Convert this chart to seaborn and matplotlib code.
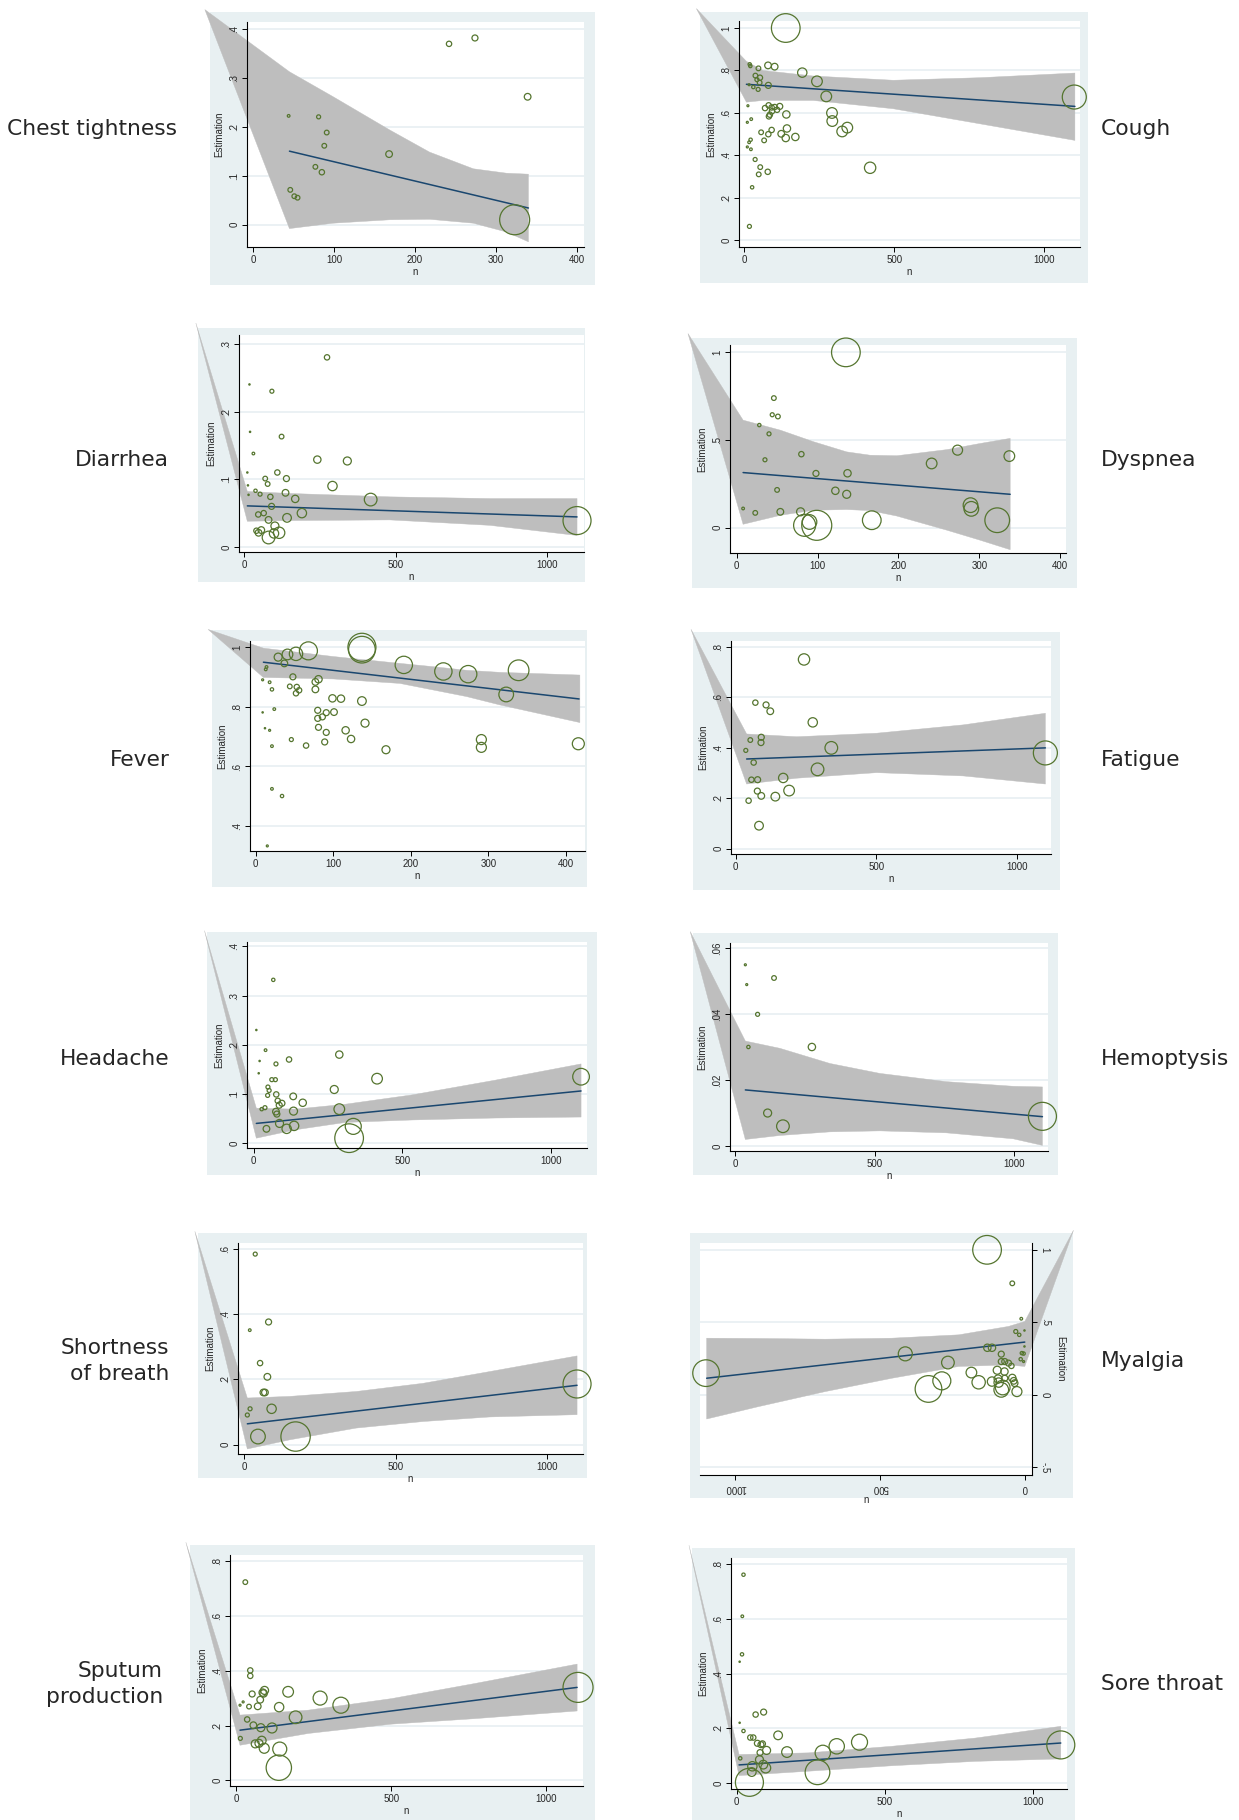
import numpy as np
import pandas as pd
import matplotlib
matplotlib.use("Agg")
import matplotlib.pyplot as plt
from matplotlib.patches import Rectangle
import seaborn as sns

sns.set_style("ticks")
plt.rcParams["font.family"] = ["Liberation Sans", "DejaVu Sans"]

# ---------------- DATA ----------------
# Chest tightness
chest_n = [44, 46, 51, 55, 81, 77, 85, 88, 91, 168, 242, 274, 339, 323]
chest_est = [0.222, 0.071, 0.058, 0.055, 0.220, 0.118, 0.107, 0.161, 0.188, 0.144, 0.369, 0.381, 0.261, 0.010]
chest_w = [4, 7, 7, 7, 6, 7, 8, 7, 7, 10, 8, 9, 10, 45]
chest_fit_n = [45, 340]
chest_fit_est = [0.150, 0.034]
chest_band_n = [45, 99, 169, 218, 272, 313, 340]
chest_band_hi = [0.312, 0.261, 0.193, 0.148, 0.114, 0.105, 0.103]
chest_band_lo = [-0.008, 0.003, 0.010, 0.011, 0.003, -0.015, -0.035]
chest_xticks = [0, 100, 200, 300, 400]
chest_yticks = [0, 0.1, 0.2, 0.3, 0.4]
chest_yticklabels = ["0", ".1", ".2", ".3", ".4"]

# Cough
cough_n = [139, 19, 21, 48, 80, 102, 194, 243, 274, 38, 53, 43, 52, 17, 31, 47, 81, 13, 70, 82, 92, 102, 119, 110, 93, 86, 83, 141,
           293, 294, 24, 11, 92, 57, 81, 143, 124, 139, 171, 67, 22, 17, 11, 23, 327, 344, 37, 54, 49, 79, 420, 27, 18, 1100]
cough_est = [1.0, 0.829, 0.821, 0.81, 0.824, 0.818, 0.79, 0.749, 0.678, 0.776, 0.766, 0.757, 0.743, 0.733, 0.722, 0.711, 0.730,
             0.634, 0.623, 0.636, 0.626, 0.628, 0.631, 0.615, 0.608, 0.592, 0.584, 0.593, 0.60, 0.562, 0.571, 0.556, 0.52, 0.509,
             0.50, 0.527, 0.502, 0.482, 0.487, 0.471, 0.474, 0.462, 0.44, 0.429, 0.513, 0.531, 0.381, 0.345, 0.311, 0.323, 0.342,
             0.25, 0.066, 0.675]
cough_w = [43, 5, 5, 7, 10, 10, 14, 16, 16, 7, 8, 6, 7, 3, 5, 6, 9, 3, 8, 8, 8, 8, 9, 8, 8, 8, 8, 11, 16, 16, 4, 3, 8, 7, 8, 11,
           10, 11, 11, 7, 5, 4, 3, 4, 16, 16, 6, 7, 7, 8, 17, 5, 6, 36]
cough_fit_n = [8, 1102]
cough_fit_est = [0.735, 0.631]
cough_band_n = [8, 63, 230, 497, 786, 1102]
cough_band_hi = [0.843, 0.80, 0.774, 0.754, 0.766, 0.788]
cough_band_lo = [0.651, 0.659, 0.659, 0.62, 0.549, 0.471]
cough_xticks = [0, 500, 1000]
cough_yticks = [0, 0.2, 0.4, 0.6, 0.8, 1.0]
cough_yticklabels = ["0", ".2", ".4", ".6", ".8", "1"]

# Diarrhea
diar_n = [274, 18, 92, 20, 124, 31, 242, 341, 11, 110, 70, 140, 13, 78, 292, 38, 53, 15, 137, 87, 169, 418, 91, 191, 65, 47,
          142, 81, 102, 41, 57, 48, 116, 99, 81, 1099]
diar_est = [0.280, 0.240, 0.230, 0.170, 0.163, 0.138, 0.129, 0.127, 0.110, 0.110, 0.101, 0.101, 0.091, 0.093, 0.090, 0.083,
            0.078, 0.077, 0.080, 0.074, 0.071, 0.070, 0.060, 0.050, 0.050, 0.048, 0.043, 0.040, 0.031, 0.024, 0.025, 0.021,
            0.021, 0.020, 0.014, 0.039]
diar_w = [8, 2, 6, 2, 7, 4, 11, 12, 2, 8, 7, 9, 2, 7, 14, 5, 6, 2, 10, 8, 11, 19, 9, 14, 8, 8, 13, 10, 12, 8, 10, 10, 17, 14, 19, 42]
diar_fit_n = [11, 1099]
diar_fit_est = [0.0607, 0.0444]
diar_band_n = [11, 152, 481, 811, 1099]
diar_band_hi = [0.082, 0.079, 0.074, 0.0715, 0.0715]
diar_band_lo = [0.038, 0.039, 0.040, 0.032, 0.017]
diar_xticks = [0, 500, 1000]
diar_yticks = [0, 0.1, 0.2, 0.3]
diar_yticklabels = ["0", ".1", ".2", ".3"]

# Dyspnea
dysp_n = [135, 46, 44, 51, 28, 40, 80, 35, 98, 137, 50, 122, 136, 8, 23, 54, 79, 84, 90, 99, 167, 241, 273, 289, 290, 322, 337]
dysp_est = [1.0, 0.739, 0.644, 0.634, 0.585, 0.535, 0.419, 0.387, 0.309, 0.310, 0.215, 0.21, 0.19, 0.109, 0.084, 0.09, 0.09,
            0.013, 0.032, 0.013, 0.042, 0.366, 0.442, 0.128, 0.107, 0.042, 0.408]
dysp_w = [43, 7, 6, 7, 5, 6, 8, 6, 9, 11, 7, 11, 12, 4, 7, 10, 12, 33, 22, 45, 28, 16, 15, 22, 22, 37, 16]
dysp_fit_n = [8, 338]
dysp_fit_est = [0.314, 0.19]
dysp_band_n = [8, 54, 95, 136, 165, 198, 260, 301, 338]
dysp_band_hi = [0.613, 0.556, 0.490, 0.432, 0.413, 0.410, 0.445, 0.480, 0.509]
dysp_band_lo = [0.019, 0.070, 0.099, 0.103, 0.097, 0.066, -0.015, -0.072, -0.126]
dysp_xticks = [0, 100, 200, 300, 400]
dysp_yticks = [0, 0.5, 1.0]
dysp_yticklabels = ["0", ".5", "1"]

# Fever
fever_n = [137, 137, 68, 52, 41, 29, 37, 191, 14, 13, 242, 274, 339, 323, 48, 9, 81, 77, 18, 44, 53, 77, 21, 56, 52, 99, 110,
           137, 24, 9, 80, 91, 101, 86, 80, 141, 12, 18, 81, 116, 91, 46, 123, 89, 65, 21, 168, 291, 291, 416, 21, 34, 15]
fever_est = [0.999, 0.991, 0.987, 0.977, 0.975, 0.966, 0.945, 0.94, 0.933, 0.925, 0.918, 0.909, 0.922, 0.841, 0.90, 0.89,
             0.892, 0.883, 0.882, 0.868, 0.866, 0.858, 0.858, 0.855, 0.845, 0.828, 0.827, 0.819, 0.792, 0.781, 0.788, 0.780,
             0.782, 0.766, 0.761, 0.745, 0.728, 0.721, 0.731, 0.721, 0.714, 0.69, 0.692, 0.682, 0.670, 0.668, 0.656, 0.69,
             0.664, 0.676, 0.525, 0.501, 0.334]
fever_w = [42, 40, 27, 20, 16, 12, 10, 26, 4, 4, 26, 26, 31, 22, 9, 3, 11, 10, 4, 7, 8, 10, 5, 8, 8, 11, 11, 13, 4, 2, 9, 9, 10,
           9, 9, 12, 2, 3, 9, 11, 9, 6, 11, 9, 8, 4, 12, 15, 15, 18, 4, 5, 3]
fever_fit_n = [10, 417]
fever_fit_est = [0.949, 0.826]
fever_band_n = [10, 100, 186, 229, 272, 315, 418]
fever_band_hi = [0.996, 0.968, 0.945, 0.934, 0.922, 0.915, 0.906]
fever_band_lo = [0.898, 0.893, 0.878, 0.856, 0.834, 0.806, 0.747]
fever_xticks = [0, 100, 200, 300, 400]
fever_yticks = [0.4, 0.6, 0.8, 1.0]
fever_yticklabels = [".4", ".6", ".8", "1"]

# Fatigue
fat_n = [243, 70, 108, 123, 274, 52, 91, 90, 36, 340, 64, 56, 78, 169, 291, 77, 91, 141, 190, 46, 83, 1101]
fat_est = [0.749, 0.578, 0.569, 0.544, 0.50, 0.430, 0.441, 0.420, 0.389, 0.399, 0.341, 0.273, 0.273, 0.28, 0.314, 0.228,
           0.209, 0.206, 0.230, 0.19, 0.091, 0.379]
fat_w = [17, 8, 9, 10, 14, 7, 9, 9, 6, 19, 8, 8, 9, 14, 19, 9, 10, 13, 16, 8, 13, 36]
fat_fit_n = [39, 1101]
fat_fit_est = [0.355, 0.399]
fat_band_n = [39, 217, 501, 809, 1101]
fat_band_hi = [0.454, 0.443, 0.457, 0.49, 0.536]
fat_band_lo = [0.256, 0.279, 0.301, 0.288, 0.256]
fat_xticks = [0, 500, 1000]
fat_yticks = [0, 0.2, 0.4, 0.6, 0.8]
fat_yticklabels = ["0", ".2", ".4", ".6", ".8"]

# Headache
head_n = [66, 9, 40, 288, 119, 20, 75, 17, 415, 61, 73, 48, 52, 271, 47, 76, 133, 165, 81, 95, 86, 27, 38, 75, 78, 134, 288,
          87, 136, 111, 43, 335, 321, 1101]
head_est = [0.332, 0.230, 0.189, 0.180, 0.170, 0.167, 0.161, 0.142, 0.131, 0.129, 0.129, 0.114, 0.107, 0.109, 0.097, 0.099,
            0.095, 0.082, 0.086, 0.081, 0.077, 0.069, 0.072, 0.064, 0.059, 0.065, 0.069, 0.040, 0.035, 0.029, 0.029, 0.034,
            0.010, 0.135]
head_w = [5, 2, 4, 11, 8, 2, 6, 2, 16, 6, 6, 6, 6, 12, 6, 8, 10, 11, 8, 9, 9, 5, 6, 10, 9, 12, 16, 12, 14, 14, 10, 24, 43, 25]
head_fit_n = [9, 1101]
head_fit_est = [0.040, 0.106]
head_band_n = [9, 140, 308, 533, 813, 1101]
head_band_hi = [0.071, 0.069, 0.079, 0.098, 0.128, 0.161]
head_band_lo = [0.010, 0.027, 0.042, 0.047, 0.051, 0.053]
head_xticks = [0, 500, 1000]
head_yticks = [0, 0.1, 0.2, 0.3, 0.4]
head_yticklabels = ["0", ".1", ".2", ".3", ".4"]

# Hemoptysis
hemo_n = [36, 41, 139, 80, 47, 275, 116, 171, 1103]
hemo_est = [0.0549, 0.0489, 0.0509, 0.0399, 0.030, 0.030, 0.010, 0.006, 0.009]
hemo_w = [3, 3, 7, 6, 5, 11, 12, 19, 42]
hemo_fit_n = [36, 1103]
hemo_fit_est = [0.0170, 0.0089]
hemo_band_n = [36, 160, 340, 519, 758, 998, 1103]
hemo_band_hi = [0.0318, 0.0296, 0.025, 0.022, 0.0195, 0.0181, 0.0179]
hemo_band_lo = [0.002, 0.0032, 0.0043, 0.0046, 0.0040, 0.0022, 0.0002]
hemo_xticks = [0, 500, 1000]
hemo_yticks = [0, 0.02, 0.04, 0.06]
hemo_yticklabels = ["0", ".02", ".04", ".06"]

# Shortness of breath
sob_n = [37, 81, 19, 53, 77, 64, 69, 91, 20, 11, 46, 170, 1098]
sob_est = [0.584, 0.376, 0.351, 0.250, 0.208, 0.160, 0.160, 0.110, 0.110, 0.091, 0.025, 0.025, 0.186]
sob_w = [6, 9, 4, 8, 10, 10, 10, 14, 6, 6, 22, 44, 42]
sob_fit_n = [11, 1098]
sob_fit_est = [0.064, 0.182]
sob_band_n = [11, 151, 370, 590, 810, 1098]
sob_band_hi = [0.143, 0.148, 0.163, 0.188, 0.224, 0.272]
sob_band_lo = [-0.013, 0.015, 0.051, 0.071, 0.085, 0.092]
sob_xticks = [0, 500, 1000]
sob_yticks = [0, 0.2, 0.4, 0.6]
sob_yticklabels = ["0", ".2", ".4", ".6"]

# Myalgia (panel drawn mirrored in the source)
myal_n = [132, 45, 14, 33, 21, 3, 3, 131, 115, 12, 6, 83, 16, 6, 83, 71, 58, 48, 414, 267, 186, 97, 72, 94, 45, 161, 115, 71,
          40, 37, 92, 78, 83, 29, 288, 334, 1101]
myal_est = [1.0, 0.769, 0.525, 0.437, 0.414, 0.444, 0.334, 0.325, 0.325, 0.288, 0.285, 0.281, 0.246, 0.23, 0.23, 0.23, 0.219,
            0.200, 0.283, 0.223, 0.154, 0.170, 0.161, 0.110, 0.117, 0.087, 0.092, 0.115, 0.097, 0.081, 0.085, 0.051, 0.035,
            0.023, 0.097, 0.041, 0.150]
myal_w = [43, 7, 4, 6, 5, 2, 2, 11, 11, 5, 5, 9, 5, 3, 9, 9, 9, 8, 21, 19, 16, 12, 11, 12, 11, 20, 14, 9, 10, 10, 14, 22, 22,
          15, 27, 40, 40]
myal_fit_n = [2, 1099]
myal_fit_est = [0.364, 0.115]
myal_band_n = [2, 58, 230, 460, 690, 921, 1099]
myal_band_hi = [0.506, 0.472, 0.414, 0.391, 0.384, 0.389, 0.391]
myal_band_lo = [0.196, 0.207, 0.196, 0.115, 0.023, -0.081, -0.166]
myal_xticks = [0, 500, 1000]
myal_yticks = [-0.5, 0, 0.5, 1.0]
myal_yticklabels = ["-.5", "0", ".5", "1"]

# Sputum production
sput_n = [30, 46, 46, 52, 168, 92, 86, 89, 78, 271, 338, 23, 13, 42, 70, 139, 192, 36, 56, 80, 116, 14, 83, 62, 74, 91, 141,
          138, 1102]
sput_est = [0.723, 0.401, 0.381, 0.315, 0.323, 0.328, 0.320, 0.317, 0.294, 0.30, 0.274, 0.286, 0.274, 0.269, 0.270, 0.267,
            0.230, 0.222, 0.201, 0.192, 0.191, 0.153, 0.145, 0.133, 0.135, 0.117, 0.114, 0.046, 0.339]
sput_w = [7, 8, 8, 9, 16, 12, 11, 11, 10, 21, 24, 3, 3, 7, 10, 14, 19, 8, 10, 12, 15, 6, 13, 12, 12, 15, 21, 38, 45]
sput_fit_n = [13, 1099]
sput_fit_est = [0.183, 0.339]
sput_band_n = [13, 233, 501, 769, 1099]
sput_band_hi = [0.238, 0.256, 0.298, 0.353, 0.424]
sput_band_lo = [0.128, 0.171, 0.205, 0.225, 0.253]
sput_xticks = [0, 500, 1000]
sput_yticks = [0, 0.2, 0.4, 0.6, 0.8]
sput_yticklabels = ["0", ".2", ".4", ".6", ".8"]

# Sore throat
sore_n = [23, 19, 18, 10, 10, 23, 91, 64, 140, 46, 56, 70, 82, 87, 79, 101, 170, 12, 291, 338, 415, 77, 90, 98, 53, 51, 43,
          273, 1095]
sore_est = [0.761, 0.609, 0.470, 0.443, 0.220, 0.190, 0.259, 0.250, 0.174, 0.166, 0.166, 0.145, 0.140, 0.143, 0.111, 0.119,
            0.113, 0.090, 0.110, 0.134, 0.149, 0.085, 0.067, 0.055, 0.061, 0.040, 0.0024, 0.039, 0.139]
sore_w = [5, 4, 5, 2, 2, 5, 9, 8, 13, 8, 8, 9, 9, 9, 9, 12, 16, 5, 23, 23, 24, 12, 13, 15, 14, 13, 42, 37, 42]
sore_fit_n = [8, 1095]
sore_fit_est = [0.066, 0.146]
sore_band_n = [8, 242, 524, 806, 1095]
sore_band_hi = [0.104, 0.110, 0.134, 0.164, 0.207]
sore_band_lo = [0.027, 0.043, 0.063, 0.079, 0.088]
sore_xticks = [0, 500, 1000]
sore_yticks = [0, 0.2, 0.4, 0.6, 0.8]
sore_yticklabels = ["0", ".2", ".4", ".6", ".8"]

# ---------------- STYLE / LAYOUT ----------------
W, H = 1239, 1820
BG = "#E8F0F2"
GRID = "#E6EEF1"
BAND = "#BEBEBE"
LINE = "#1A476F"
GREEN = "#55752F"
AX_FONT = 7
LABEL_FONT = 15.7
SIZE_K = 0.2304  # bubble reading (zoomed px radius)^2 -> points^2
RX = 1101        # left edge of the right-column labels

panels = [
    dict(title="Chest tightness", n=chest_n, est=chest_est, w=chest_w, fn=chest_fit_n, fe=chest_fit_est,
         bn=chest_band_n, bh=chest_band_hi, bl=chest_band_lo, xt=chest_xticks, yt=chest_yticks, ytl=chest_yticklabels,
         bg=(210, 12, 595, 285), ax=(247, 22, 584, 247), xlim=(-7.4, 408.6), ylim=(-0.0456, 0.4136),
         lab=(177, 129, "right")),
    dict(title="Cough", n=cough_n, est=cough_est, w=cough_w, fn=cough_fit_n, fe=cough_fit_est,
         bn=cough_band_n, bh=cough_band_hi, bl=cough_band_lo, xt=cough_xticks, yt=cough_yticks, ytl=cough_yticklabels,
         bg=(700, 12, 1088, 283), ax=(739, 21, 1080, 247), xlim=(-16.7, 1119), ylim=(-0.031, 1.033),
         lab=(RX, 129, "left")),
    dict(title="Diarrhea", n=diar_n, est=diar_est, w=diar_w, fn=diar_fit_n, fe=diar_fit_est,
         bn=diar_band_n, bh=diar_band_hi, bl=diar_band_lo, xt=diar_xticks, yt=diar_yticks, ytl=diar_yticklabels,
         bg=(198, 328, 585, 582), ax=(239, 335, 584, 552), xlim=(-16.5, 1122), ylim=(-0.0074, 0.313),
         lab=(169, 460, "right")),
    dict(title="Dyspnea", n=dysp_n, est=dysp_est, w=dysp_w, fn=dysp_fit_n, fe=dysp_fit_est,
         bn=dysp_band_n, bh=dysp_band_hi, bl=dysp_band_lo, xt=dysp_xticks, yt=dysp_yticks, ytl=dysp_yticklabels,
         bg=(692, 338, 1077, 588), ax=(730, 345, 1066, 553), xlim=(-8.2, 407), ylim=(-0.145, 1.042),
         lab=(RX, 460, "left")),
    dict(title="Fever", n=fever_n, est=fever_est, w=fever_w, fn=fever_fit_n, fe=fever_fit_est,
         bn=fever_band_n, bh=fever_band_hi, bl=fever_band_lo, xt=fever_xticks, yt=fever_yticks, ytl=fever_yticklabels,
         bg=(212, 630, 587, 887), ax=(250, 641, 585, 851), xlim=(-7.3, 424.6), ylim=(0.317, 1.020),
         lab=(170, 760, "right")),
    dict(title="Fatigue", n=fat_n, est=fat_est, w=fat_w, fn=fat_fit_n, fe=fat_fit_est,
         bn=fat_band_n, bh=fat_band_hi, bl=fat_band_lo, xt=fat_xticks, yt=fat_yticks, ytl=fat_yticklabels,
         bg=(693, 632, 1060, 890), ax=(731, 641, 1051, 854), xlim=(-16.6, 1121), ylim=(-0.021, 0.822),
         lab=(RX, 760, "left")),
    dict(title="Headache", n=head_n, est=head_est, w=head_w, fn=head_fit_n, fe=head_fit_est,
         bn=head_band_n, bh=head_band_hi, bl=head_band_lo, xt=head_xticks, yt=head_yticks, ytl=head_yticklabels,
         bg=(207, 932, 597, 1175), ax=(247, 942, 587, 1148), xlim=(-22.4, 1121), ylim=(-0.010, 0.409),
         lab=(170, 1059, "right")),
    dict(title="Hemoptysis", n=hemo_n, est=hemo_est, w=hemo_w, fn=hemo_fit_n, fe=hemo_fit_est,
         bn=hemo_band_n, bh=hemo_band_hi, bl=hemo_band_lo, xt=hemo_xticks, yt=hemo_yticks, ytl=hemo_yticklabels,
         bg=(693, 933, 1058, 1175), ax=(730, 943, 1048, 1151), xlim=(-19.1, 1123), ylim=(-0.0015, 0.0615),
         lab=(RX, 1059, "left")),
    dict(title="Shortness\nof breath", n=sob_n, est=sob_est, w=sob_w, fn=sob_fit_n, fe=sob_fit_est,
         bn=sob_band_n, bh=sob_band_hi, bl=sob_band_lo, xt=sob_xticks, yt=sob_yticks, ytl=sob_yticklabels,
         bg=(198, 1233, 587, 1478), ax=(238, 1243, 583, 1454), xlim=(-19.8, 1117.6), ylim=(-0.0285, 0.618),
         lab=(169, 1361, "right")),
    dict(title="Myalgia", n=myal_n, est=myal_est, w=myal_w, fn=myal_fit_n, fe=myal_fit_est,
         bn=myal_band_n, bh=myal_band_hi, bl=myal_band_lo, xt=myal_xticks, yt=myal_yticks, ytl=myal_yticklabels,
         bg=(690, 1233, 1073, 1498), ax=(700, 1243, 1032, 1475), xlim=(1122, -23), ylim=(-0.552, 1.047),
         lab=(RX, 1361, "left"), mirror=True),
    dict(title="Sputum\nproduction", n=sput_n, est=sput_est, w=sput_w, fn=sput_fit_n, fe=sput_fit_est,
         bn=sput_band_n, bh=sput_band_hi, bl=sput_band_lo, xt=sput_xticks, yt=sput_yticks, ytl=sput_yticklabels,
         bg=(190, 1545, 595, 1820), ax=(230, 1555, 583, 1786), xlim=(-19.3, 1118), ylim=(-0.0207, 0.822),
         lab=(163, 1684, "right")),
    dict(title="Sore throat", n=sore_n, est=sore_est, w=sore_w, fn=sore_fit_n, fe=sore_fit_est,
         bn=sore_band_n, bh=sore_band_hi, bl=sore_band_lo, xt=sore_xticks, yt=sore_yticks, ytl=sore_yticklabels,
         bg=(692, 1548, 1075, 1820), ax=(731, 1558, 1067, 1789), xlim=(-19.2, 1116), ylim=(-0.022, 0.822),
         lab=(RX, 1684, "left")),
]

fig = plt.figure(figsize=(W / 100, H / 100), dpi=100)
fig.patch.set_facecolor("white")


def draw_panel(p):
    mirror = p.get("mirror", False)
    bx0, by0, bx1, by1 = p["bg"]
    fig.add_artist(Rectangle((bx0 / W, 1 - by1 / H), (bx1 - bx0) / W, (by1 - by0) / H,
                             transform=fig.transFigure, facecolor=BG, edgecolor="none", zorder=-5))
    l, t, r, b = p["ax"]
    ax = fig.add_axes([l / W, 1 - b / H, (r - l) / W, (b - t) / H])
    ax.set_facecolor("white")
    ax.set_xlim(*p["xlim"])
    ax.set_ylim(*p["ylim"])
    ax.set_axisbelow(False)

    for yv in p["yt"]:
        ax.axhline(yv, color=GRID, lw=1.1, zorder=0.6)

    # confidence band, with the polygon spike the source renderer left behind
    x0, x1 = p["xlim"]
    y0, y1 = p["ylim"]
    art = (1.125, 1.055) if mirror else (-0.125, 1.055)
    ax_x = x0 + art[0] * (x1 - x0)
    ax_y = y0 + art[1] * (y1 - y0)
    poly_x = [ax_x] + list(p["bn"]) + list(p["bn"][::-1])
    poly_y = [ax_y] + list(p["bh"]) + list(p["bl"][::-1])
    for patch in ax.fill(poly_x, poly_y, facecolor=BAND, edgecolor=BAND, linewidth=0.3, zorder=1):
        patch.set_clip_on(False)
    ax.set_xlim(*p["xlim"])
    ax.set_ylim(*p["ylim"])

    sns.lineplot(x=p["fn"], y=p["fe"], ax=ax, color=LINE, linewidth=1.1, zorder=2)

    df = pd.DataFrame({"n": p["n"], "est": p["est"], "w": np.square(p["w"])})
    wmax = float(df["w"].max())
    sns.scatterplot(data=df, x="n", y="est", size="w", sizes=(0, SIZE_K * wmax), size_norm=(0, wmax),
                    legend=False, facecolor="none", edgecolor=GREEN, linewidth=0.9,
                    clip_on=False, zorder=3, ax=ax)
    ax.set_xlim(*p["xlim"])
    ax.set_ylim(*p["ylim"])

    ax.set_xticks(p["xt"])
    ax.set_xticklabels([str(v) for v in p["xt"]])
    ax.set_yticks(p["yt"])
    ax.set_yticklabels(p["ytl"])
    ax.tick_params(direction="out", length=3.5, width=0.7, color="black", labelsize=AX_FONT, pad=2)

    for s in ax.spines.values():
        s.set_visible(False)
    side = "right" if mirror else "left"
    for nm in ("bottom", side):
        ax.spines[nm].set_visible(True)
        ax.spines[nm].set_linewidth(0.8)
        ax.spines[nm].set_color("black")
        ax.spines[nm].set_zorder(4)

    if mirror:
        ax.yaxis.tick_right()
        ax.yaxis.set_label_position("right")
        ax.set_xlabel("n", fontsize=AX_FONT, labelpad=2)
        ax.set_ylabel("Estimation", fontsize=AX_FONT, labelpad=4)
        ax.yaxis.label.set_rotation(270)
        ax.yaxis.label.set_verticalalignment("bottom")
        for tl in ax.get_xticklabels():
            tl.set_rotation(180)
        for tl in ax.get_yticklabels():
            tl.set_rotation(270)
            tl.set_verticalalignment("center")
    else:
        ax.set_xlabel("n", fontsize=AX_FONT, labelpad=2)
        ax.set_ylabel("Estimation", fontsize=AX_FONT, labelpad=4)
        for tl in ax.get_yticklabels():
            tl.set_rotation(90)
            tl.set_verticalalignment("center")

    lx, ly, ha = p["lab"]
    fig.text(lx / W, 1 - ly / H, p["title"], ha=ha, va="center", fontsize=LABEL_FONT,
             family=["DejaVu Sans"], multialignment="right" if ha == "right" else "left",
             linespacing=1.33)


for p in panels:
    draw_panel(p)

fig.savefig("out.png", dpi=100, facecolor="white")
